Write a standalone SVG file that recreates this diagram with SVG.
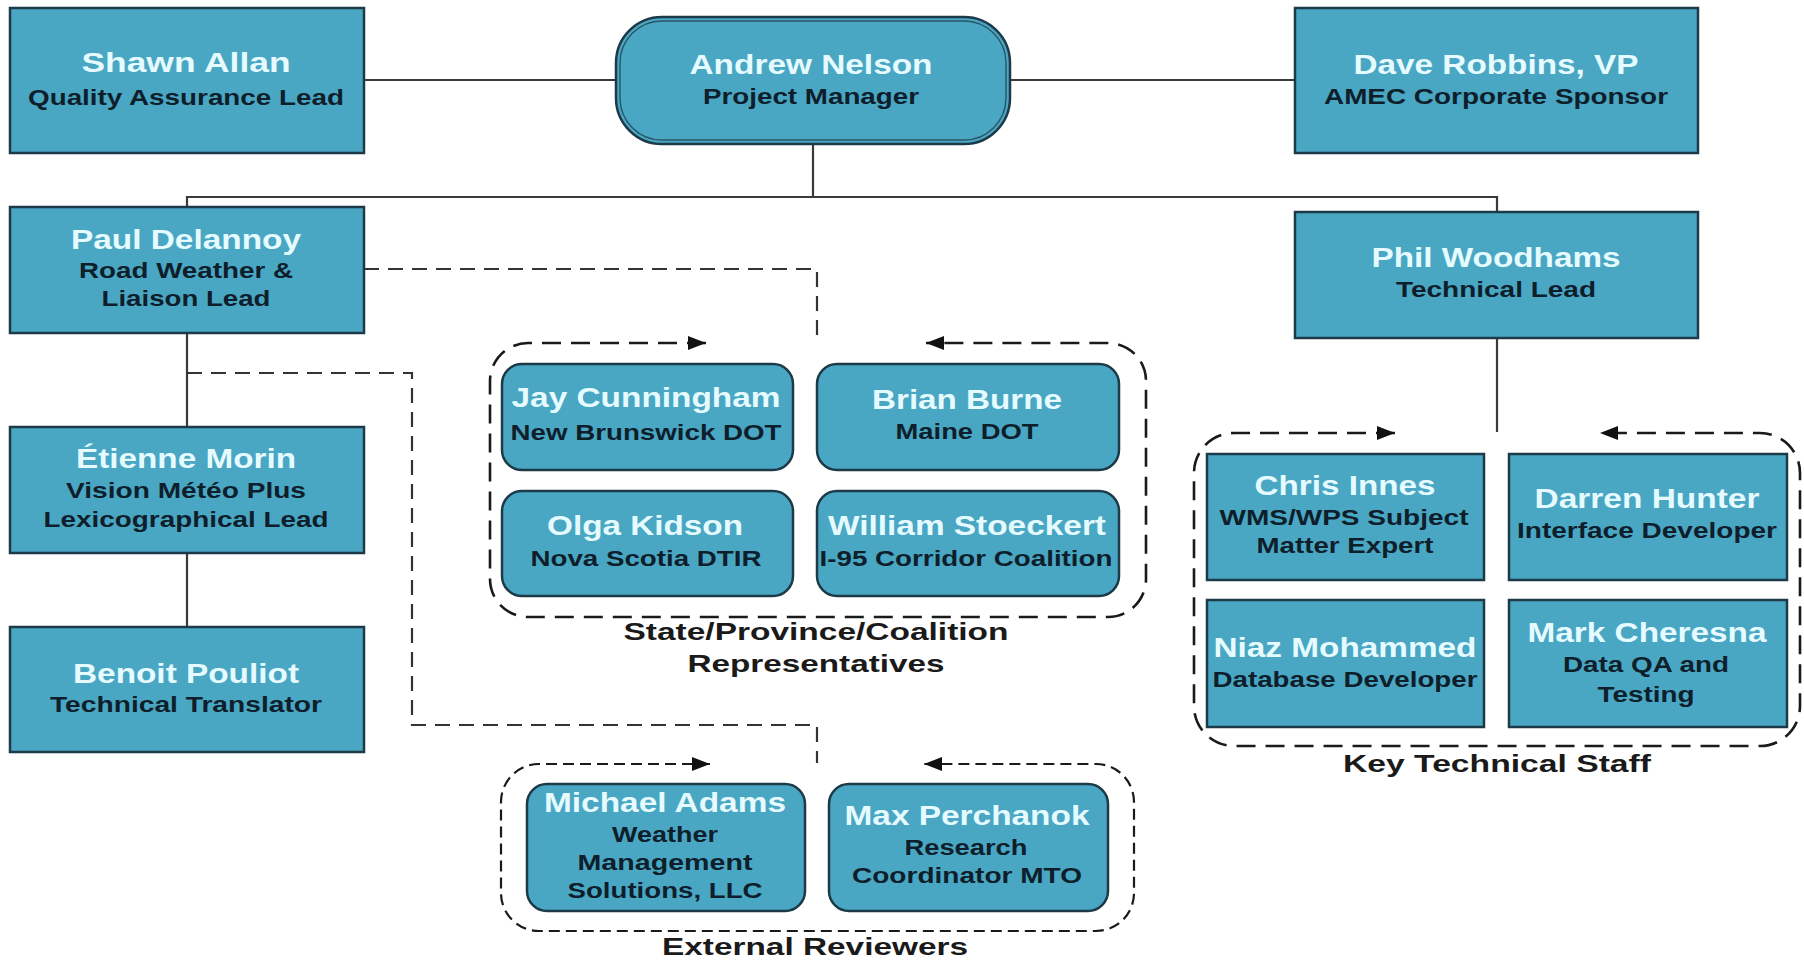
<svg xmlns="http://www.w3.org/2000/svg" width="1804" height="960" viewBox="0 0 1804 960">
<defs>
<style>
.box{fill:#49a7c4;stroke:#1c3a48;stroke-width:2.5}
.nm{font-family:"Liberation Sans",Arial,sans-serif;font-weight:bold;font-size:27px;fill:#e6fbff;text-anchor:middle}
.sb{font-family:"Liberation Sans",Arial,sans-serif;font-weight:bold;font-size:21.5px;fill:#0e1e2b;text-anchor:middle}
.cap{font-family:"Liberation Sans",Arial,sans-serif;font-weight:bold;font-size:24.5px;fill:#1a1a1a;text-anchor:middle}
.ln{fill:none;stroke:#3a3a3a;stroke-width:2.2}
.dl{fill:none;stroke:#333;stroke-width:2.2;stroke-dasharray:15 9}
.grp{fill:none;stroke:#1a1a1a;stroke-width:2.6;stroke-dasharray:19 10}
.grp2{fill:none;stroke:#1a1a1a;stroke-width:2.2;stroke-dasharray:11 6}
</style>
<marker id="ah" viewBox="0 0 18 14" refX="18" refY="7" markerWidth="18" markerHeight="14" markerUnits="userSpaceOnUse" orient="auto-start-reverse">
<path d="M0,0 L18,7 L0,14 z" fill="#111"/>
</marker>
</defs>
<rect width="1804" height="960" fill="#ffffff"/>

<g id="connectors">
<line class="ln" x1="364" y1="80" x2="616" y2="80"/>
<line class="ln" x1="1010" y1="80" x2="1295" y2="80"/>
<line class="ln" x1="813" y1="144" x2="813" y2="197"/>
<polyline class="ln" points="187,207 187,197 1497,197 1497,212"/>
<line class="ln" x1="187" y1="333" x2="187" y2="427"/>
<line class="ln" x1="187" y1="553" x2="187" y2="627"/>
<line class="ln" x1="1497" y1="338" x2="1497" y2="432"/>
<polyline class="dl" points="364,269 817,269 817,343"/>
<polyline class="dl" points="187,373 412,373 412,725 817,725 817,763"/>
<path class="grp" marker-start="url(#ah)" marker-end="url(#ah)" d="M706,343 L528,343 A38,38 0 0 0 490,381 L490,579 A38,38 0 0 0 528,617 L1108,617 A38,38 0 0 0 1146,579 L1146,381 A38,38 0 0 0 1108,343 L926,343"/>
<path class="grp" marker-start="url(#ah)" marker-end="url(#ah)" d="M1395,433 L1234,433 A40,40 0 0 0 1194,473 L1194,706 A40,40 0 0 0 1234,746 L1760,746 A40,40 0 0 0 1800,706 L1800,473 A40,40 0 0 0 1760,433 L1600,433"/>
<path class="grp2" marker-start="url(#ah)" marker-end="url(#ah)" d="M710,764 L539,764 A38,38 0 0 0 501,802 L501,893 A38,38 0 0 0 539,931 L1096,931 A38,38 0 0 0 1134,893 L1134,802 A38,38 0 0 0 1096,764 L924,764"/>
</g>

<g id="shawn">
<rect class="box" x="10" y="8" width="354" height="145"/>
<text class="nm" x="186" y="72" textLength="209" lengthAdjust="spacingAndGlyphs">Shawn  Allan</text>
<text class="sb" x="186" y="105" textLength="316" lengthAdjust="spacingAndGlyphs">Quality Assurance Lead</text>
</g>
<g id="andrew">
<rect x="616" y="17" width="394" height="127" rx="46" fill="#49a7c4" stroke="#1c3a48" stroke-width="2.5"/>
<rect x="620" y="21" width="386" height="119" rx="42" fill="none" stroke="#2a5566" stroke-width="1.4"/>
<text class="nm" x="811" y="74" textLength="243" lengthAdjust="spacingAndGlyphs">Andrew Nelson</text>
<text class="sb" x="811" y="104" textLength="216" lengthAdjust="spacingAndGlyphs">Project Manager</text>
</g>
<g id="dave">
<rect class="box" x="1295" y="8" width="403" height="145"/>
<text class="nm" x="1496" y="74" textLength="285" lengthAdjust="spacingAndGlyphs">Dave Robbins, VP</text>
<text class="sb" x="1496" y="104" textLength="344" lengthAdjust="spacingAndGlyphs">AMEC Corporate Sponsor</text>
</g>
<g id="paul">
<rect class="box" x="10" y="207" width="354" height="126"/>
<text class="nm" x="186" y="249" textLength="230" lengthAdjust="spacingAndGlyphs">Paul Delannoy</text>
<text class="sb" x="186" y="278" textLength="214" lengthAdjust="spacingAndGlyphs">Road Weather &amp;</text>
<text class="sb" x="186" y="306" textLength="169" lengthAdjust="spacingAndGlyphs">Liaison Lead</text>
</g>
<g id="phil">
<rect class="box" x="1295" y="212" width="403" height="126"/>
<text class="nm" x="1496" y="267" textLength="249" lengthAdjust="spacingAndGlyphs">Phil Woodhams</text>
<text class="sb" x="1496" y="297" textLength="200" lengthAdjust="spacingAndGlyphs">Technical Lead</text>
</g>
<g id="etienne">
<rect class="box" x="10" y="427" width="354" height="126"/>
<text class="nm" x="186" y="468" textLength="220" lengthAdjust="spacingAndGlyphs">Étienne Morin</text>
<text class="sb" x="186" y="498" textLength="240" lengthAdjust="spacingAndGlyphs">Vision Météo Plus</text>
<text class="sb" x="186" y="527" textLength="285" lengthAdjust="spacingAndGlyphs">Lexicographical Lead</text>
</g>
<g id="benoit">
<rect class="box" x="10" y="627" width="354" height="125"/>
<text class="nm" x="186" y="683" textLength="226" lengthAdjust="spacingAndGlyphs">Benoit Pouliot</text>
<text class="sb" x="186" y="712" textLength="272" lengthAdjust="spacingAndGlyphs">Technical Translator</text>
</g>

<g id="jay">
<rect class="box" x="502" y="364" width="291" height="106" rx="20"/>
<text class="nm" x="646" y="407" textLength="269" lengthAdjust="spacingAndGlyphs">Jay Cunningham</text>
<text class="sb" x="646" y="440" textLength="271" lengthAdjust="spacingAndGlyphs">New Brunswick DOT</text>
</g>
<g id="brian">
<rect class="box" x="817" y="364" width="302" height="106" rx="20"/>
<text class="nm" x="967" y="409" textLength="190" lengthAdjust="spacingAndGlyphs">Brian Burne</text>
<text class="sb" x="967" y="439" textLength="143" lengthAdjust="spacingAndGlyphs">Maine DOT</text>
</g>
<g id="olga">
<rect class="box" x="502" y="491" width="291" height="105" rx="20"/>
<text class="nm" x="645" y="535" textLength="196" lengthAdjust="spacingAndGlyphs">Olga Kidson</text>
<text class="sb" x="646" y="566" textLength="231" lengthAdjust="spacingAndGlyphs">Nova Scotia DTIR</text>
</g>
<g id="william">
<rect class="box" x="817" y="491" width="302" height="105" rx="20"/>
<text class="nm" x="967" y="535" textLength="278" lengthAdjust="spacingAndGlyphs">William Stoeckert</text>
<text class="sb" x="966" y="566" textLength="293" lengthAdjust="spacingAndGlyphs">I-95 Corridor Coalition</text>
</g>
<g id="state-caption">
<text class="cap" x="816" y="640" textLength="385" lengthAdjust="spacingAndGlyphs">State/Province/Coalition</text>
<text class="cap" x="816" y="672" textLength="257" lengthAdjust="spacingAndGlyphs">Representatives</text>
</g>

<g id="chris">
<rect class="box" x="1207" y="454" width="277" height="126"/>
<text class="nm" x="1345" y="495" textLength="181" lengthAdjust="spacingAndGlyphs">Chris Innes</text>
<text class="sb" x="1344" y="525" textLength="249" lengthAdjust="spacingAndGlyphs">WMS/WPS Subject</text>
<text class="sb" x="1345" y="553" textLength="177" lengthAdjust="spacingAndGlyphs">Matter Expert</text>
</g>
<g id="darren">
<rect class="box" x="1509" y="454" width="278" height="126"/>
<text class="nm" x="1647" y="508" textLength="225" lengthAdjust="spacingAndGlyphs">Darren Hunter</text>
<text class="sb" x="1647" y="538" textLength="260" lengthAdjust="spacingAndGlyphs">Interface Developer</text>
</g>
<g id="niaz">
<rect class="box" x="1207" y="600" width="277" height="127"/>
<text class="nm" x="1345" y="657" textLength="263" lengthAdjust="spacingAndGlyphs">Niaz Mohammed</text>
<text class="sb" x="1345" y="687" textLength="265" lengthAdjust="spacingAndGlyphs">Database Developer</text>
</g>
<g id="mark">
<rect class="box" x="1509" y="600" width="278" height="127"/>
<text class="nm" x="1647" y="642" textLength="239" lengthAdjust="spacingAndGlyphs">Mark Cheresna</text>
<text class="sb" x="1646" y="672" textLength="166" lengthAdjust="spacingAndGlyphs">Data QA and</text>
<text class="sb" x="1646" y="702" textLength="97" lengthAdjust="spacingAndGlyphs">Testing</text>
</g>
<g id="key-caption">
<text class="cap" x="1497" y="772" textLength="308" lengthAdjust="spacingAndGlyphs">Key Technical Staff</text>
</g>

<g id="michael">
<rect class="box" x="527" y="784" width="278" height="127" rx="20"/>
<text class="nm" x="665" y="812" textLength="242" lengthAdjust="spacingAndGlyphs">Michael Adams</text>
<text class="sb" x="665" y="842" textLength="106" lengthAdjust="spacingAndGlyphs">Weather</text>
<text class="sb" x="665" y="870" textLength="175" lengthAdjust="spacingAndGlyphs">Management</text>
<text class="sb" x="665" y="898" textLength="195" lengthAdjust="spacingAndGlyphs">Solutions, LLC</text>
</g>
<g id="max">
<rect class="box" x="829" y="784" width="279" height="127" rx="20"/>
<text class="nm" x="967" y="825" textLength="245" lengthAdjust="spacingAndGlyphs">Max Perchanok</text>
<text class="sb" x="966" y="855" textLength="123" lengthAdjust="spacingAndGlyphs">Research</text>
<text class="sb" x="967" y="883" textLength="230" lengthAdjust="spacingAndGlyphs">Coordinator MTO</text>
</g>
<g id="ext-caption">
<text class="cap" x="815" y="955" textLength="306" lengthAdjust="spacingAndGlyphs">External Reviewers</text>
</g>
</svg>
